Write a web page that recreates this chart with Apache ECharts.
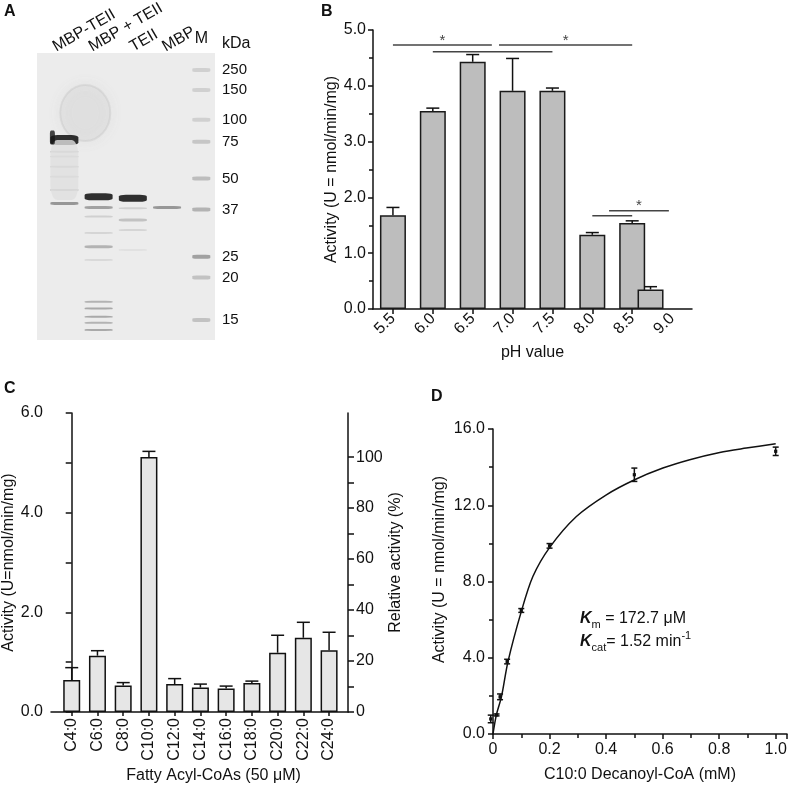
<!DOCTYPE html>
<html>
<head>
<meta charset="utf-8">
<script src="https://cdn.jsdelivr.net/npm/echarts@6/dist/echarts.min.js"></script>
<style>
html,body{margin:0;padding:0;background:#fff}
#main{width:790px;height:790px}
</style>
</head>
<body>
<div id="main"></div>
<script>
// ---- A: SDS-PAGE gel (band positions = migration in % of gel height) ----
var laneNames = ['MBP-TEII', 'MBP + TEII', 'TEII', 'MBP', 'M'];
var markerKDa = [250, 150, 100, 75, 50, 37, 25, 20, 15];
var markerRf = [5.9, 12.9, 23.3, 30.9, 43.7, 54.5, 71.0, 78.2, 93.0];
var markerInt = [0.15, 0.15, 0.15, 0.2, 0.25, 0.3, 0.4, 0.22, 0.22];
// [migration, intensity, thickness]
var lane1Bands = [[30.3, 1, 10], [34.4, 0.25, 2], [36.1, 0.2, 2], [39.6, 0.25, 2], [43.1, 0.2, 2], [47.7, 0.3, 2], [52.4, 0.45, 3]];
var lane2Bands = [[50.1, 1, 7], [53.8, 0.4, 3], [57.0, 0.15, 2], [62.7, 0.12, 2], [67.5, 0.3, 3], [72.1, 0.1, 2],
                  [86.7, 0.3, 2], [89.0, 0.35, 2], [91.9, 0.35, 2], [94.0, 0.3, 2], [96.5, 0.35, 2]];
var lane3Bands = [[50.6, 1, 7], [54.1, 0.15, 2], [58.2, 0.22, 3], [61.7, 0.12, 2], [68.6, 0.06, 2]];
var lane4Bands = [[53.8, 0.45, 3]];
// [lane, migration, intensity, height, width]
var gelSmears = [[0, 40.8, 0.05, 60, 28], [-0.35, 29.4, 0.9, 14, 5]];
var gelBlob = [[0.61, 20.9]];

// ---- B: pH profile ----
var phLabels = [5.5, 6.0, 6.5, 7.0, 7.5, 8.0, 8.5, 9.0];
var phBarPos = [5.5, 6.0, 6.5, 7.0, 7.5, 8.0, 8.5, 8.73]; // the 9.0 bar sits shifted left in the original
var phActivity = [1.68, 3.55, 4.43, 3.91, 3.91, 1.33, 1.54, 0.35];
var phErr = [0.14, 0.05, 0.13, 0.58, 0.05, 0.04, 0.04, 0.05];
// [from pH, to pH, height, star]
var sigLines = [[5.5, 6.74, 4.73, 1], [6.0, 7.5, 4.61, 0], [6.83, 8.5, 4.73, 1], [8.0, 8.5, 1.67, 0], [8.21, 8.96, 1.76, 1]];

// ---- C: substrate specificity ----
var acylNames = ['C4:0', 'C6:0', 'C8:0', 'C10:0', 'C12:0', 'C14:0', 'C16:0', 'C18:0', 'C20:0', 'C22:0', 'C24:0'];
var acylActivity = [0.64, 1.13, 0.53, 5.115, 0.56, 0.49, 0.47, 0.58, 1.19, 1.49, 1.24];
var acylErr = [0.25, 0.10, 0.06, 0.115, 0.11, 0.07, 0.05, 0.04, 0.35, 0.31, 0.36];
var leftTicks = [0, 1, 2, 3, 4, 5, 6];
var leftLabels = [0, 2, 4, 6];
var relTicks = [0, 10, 20, 30, 40, 50, 60, 70, 80, 90, 100];
var relLabels = [0, 20, 40, 60, 80, 100];

// ---- D: kinetics ----
var substrateMM = [-0.008, 0.0125, 0.025, 0.05, 0.1, 0.2, 0.5, 1.0];
var rateMean = [0.79, 1.0, 1.95, 3.8, 6.48, 9.87, 13.6, 14.83];
var rateErr = [0.2, 0.05, 0.15, 0.12, 0.1, 0.12, 0.35, 0.22];
var fitX = [0, 0.012, 0.03, 0.053, 0.1, 0.141, 0.2, 0.295, 0.401, 0.501, 0.601, 0.696, 0.802, 0.896, 1.0];
var fitY = [0, 1.0, 1.96, 3.8, 6.42, 8.26, 9.78, 11.41, 12.55, 13.34, 13.95, 14.39, 14.77, 15.0, 15.23];

var laneLabelAt = [-0.3, 0.75, 1.95, 2.9];

var chart = echarts.init(document.getElementById('main'));

var gelData = [];
[lane1Bands, lane2Bands, lane3Bands, lane4Bands].forEach(function (bands, i) {
	bands.forEach(function (b) { gelData.push([i, b[0], b[1], b[2], 28]); });
});
markerRf.forEach(function (rf, i) { gelData.push([4, rf, markerInt[i], 4, 18]); });
gelSmears.forEach(function (s) { gelData.push(s); });

function grayOf(v) {
	var g = Math.round(236 * (1 - v));
	return 'rgb(' + g + ',' + g + ',' + g + ')';
}

function errorBar(cap, withDot) {
	return function (params, api) {
		var x = api.value(0), y = api.value(1), e = api.value(2);
		var lo = api.coord([x, withDot ? y - e : y]);
		var hi = api.coord([x, y + e]);
		var st = {stroke: '#111', lineWidth: 1.5};
		var kids = [
			{type: 'line', shape: {x1: hi[0], y1: lo[1], x2: hi[0], y2: hi[1]}, style: st},
			{type: 'line', shape: {x1: hi[0] - cap, y1: hi[1], x2: hi[0] + cap, y2: hi[1]}, style: st}
		];
		if (withDot) {
			var c = api.coord([x, y]);
			kids.push({type: 'line', shape: {x1: lo[0] - cap, y1: lo[1], x2: lo[0] + cap, y2: lo[1]}, style: st});
			kids.push({type: 'rect', shape: {x: c[0] - 1.6, y: c[1] - 1.6, width: 3.2, height: 3.2}, style: {fill: '#111'}});
		}
		return {type: 'group', children: kids};
	};
}

var axisLineStyle = {color: '#111', width: 1.5};
var labelFont = {color: '#111', fontSize: 16};

var option = {
	backgroundColor: '#fff',
	animation: false,
	textStyle: {fontFamily: 'Liberation Sans, Arial, sans-serif'},
	title: [
		{text: 'A', left: 4, top: 4, padding: 0, textStyle: {fontSize: 16, fontWeight: 'bold', color: '#111'}},
		{text: 'B', left: 321, top: 4, padding: 0, textStyle: {fontSize: 16, fontWeight: 'bold', color: '#111'}},
		{text: 'C', left: 4, top: 381, padding: 0, textStyle: {fontSize: 16, fontWeight: 'bold', color: '#111'}},
		{text: 'D', left: 431, top: 389, padding: 0, textStyle: {fontSize: 16, fontWeight: 'bold', color: '#111'}}
	],
	grid: [
		{left: 37, top: 53, width: 178, height: 287, show: true, backgroundColor: '#ececec', borderWidth: 0, outerBoundsMode: 'none'},
		{left: 373, top: 30, right: 98, bottom: 481, outerBoundsMode: 'none'},
		{left: 51, top: 413, right: 442, bottom: 78, outerBoundsMode: 'none'},
		{left: 493, top: 429, right: 3, bottom: 56, outerBoundsMode: 'none'}
	],
	xAxis: [
		{gridIndex: 0, type: 'value', position: 'top', min: -0.8, max: 4.4,
			axisLine: {show: false}, axisTick: {show: false}, splitLine: {show: false},
			axisLabel: {customValues: laneLabelAt, rotate: 30, margin: 5, fontSize: 16, color: '#111', hideOverlap: false,
				formatter: function (v) { return laneNames[laneLabelAt.indexOf(v)]; }}},
		{gridIndex: 0, type: 'value', position: 'top', min: -0.8, max: 4.4,
			axisLine: {show: false}, axisTick: {show: false}, splitLine: {show: false},
			axisLabel: {customValues: [4], margin: 6, fontSize: 16, color: '#111',
				formatter: function () { return laneNames[4]; }}},
		{gridIndex: 1, type: 'value', min: 5.25, max: 9.25,
			axisLine: {lineStyle: axisLineStyle}, splitLine: {show: false},
			axisTick: {customValues: phLabels.slice(0, 7), length: 5, lineStyle: axisLineStyle},
			axisLabel: {customValues: phLabels, rotate: 45, margin: 7, fontSize: 16, color: '#111',
				formatter: function (v) { return v.toFixed(1); }},
			name: 'pH value', nameLocation: 'middle', nameGap: 36, nameTextStyle: labelFont},
		{gridIndex: 2, type: 'value', min: -0.805, max: 10.735,
			axisLine: {lineStyle: axisLineStyle}, splitLine: {show: false},
			axisTick: {customValues: acylNames.map(function (n, i) { return i; }), length: 4, lineStyle: axisLineStyle},
			axisLabel: {customValues: acylNames.map(function (n, i) { return i; }), rotate: 90, margin: 6, fontSize: 16, color: '#111',
				formatter: function (v) { return acylNames[Math.round(v)]; }},
			name: 'Fatty Acyl-CoAs (50 μM)', nameLocation: 'middle', nameGap: 56,
			nameTextStyle: {color: '#111', fontSize: 16, padding: [0, 0, 0, 28]}},
		{gridIndex: 3, type: 'value', min: 0, max: 1.04, interval: 0.2,
			axisLine: {lineStyle: axisLineStyle}, splitLine: {show: false},
			axisTick: {length: 5, lineStyle: axisLineStyle},
			minorTick: {show: true, splitNumber: 2, length: 4, lineStyle: {color: '#111', width: 1.5}},
			axisLabel: {margin: 8, fontSize: 16, color: '#111', showMaxLabel: false,
				formatter: function (v) { return v === 0 ? '0' : v.toFixed(1); }},
			name: 'C10:0 Decanoyl-CoA (mM)', nameLocation: 'middle', nameGap: 33, nameTextStyle: labelFont}
	],
	yAxis: [
		{gridIndex: 0, type: 'value', inverse: true, min: 0, max: 100, position: 'right',
			axisLine: {show: false}, axisTick: {show: false}, splitLine: {show: false},
			axisLabel: {customValues: markerRf, margin: 7, fontSize: 15, color: '#111',
				formatter: function (v) { return markerKDa[markerRf.indexOf(v)]; }}},
		{gridIndex: 1, type: 'value', min: 0, max: 5, interval: 1,
			axisLine: {show: true, lineStyle: axisLineStyle}, splitLine: {show: false},
			axisTick: {show: true, length: 5, lineStyle: axisLineStyle},
			minorTick: {show: true, splitNumber: 2, length: 4, lineStyle: {color: '#111', width: 1.5}},
			axisLabel: {margin: 7, fontSize: 16, color: '#111', formatter: function (v) { return v.toFixed(1); }},
			name: 'Activity (U = nmol/min/mg)', nameLocation: 'middle', nameGap: 33, nameTextStyle: labelFont},
		{gridIndex: 2, type: 'value', min: 0, max: 6,
			axisLine: {show: true, lineStyle: axisLineStyle}, splitLine: {show: false},
			axisTick: {show: true, customValues: leftTicks, length: 6, lineStyle: axisLineStyle},
			axisLabel: {customValues: leftLabels, margin: 8, fontSize: 16, color: '#111',
				formatter: function (v) { return v.toFixed(1); }},
			name: 'Activity (U=nmol/min/mg)', nameLocation: 'middle', nameGap: 33, nameTextStyle: labelFont},
		{gridIndex: 2, type: 'value', min: 0, max: 117.3, position: 'right',
			axisLine: {show: true, lineStyle: axisLineStyle}, splitLine: {show: false},
			axisTick: {show: true, customValues: relTicks, length: 6, lineStyle: axisLineStyle},
			axisLabel: {customValues: relLabels, margin: 8, fontSize: 16, color: '#111'},
			name: 'Relative activity (%)', nameLocation: 'middle', nameGap: 40, nameTextStyle: labelFont},
		{gridIndex: 3, type: 'value', min: 0, max: 16, interval: 4,
			axisLine: {show: true, lineStyle: axisLineStyle}, splitLine: {show: false},
			axisTick: {show: true, length: 5, lineStyle: axisLineStyle},
			minorTick: {show: true, splitNumber: 2, length: 4, lineStyle: {color: '#111', width: 1.5}},
			axisLabel: {margin: 8, fontSize: 16, color: '#111', formatter: function (v) { return v.toFixed(1); }},
			name: 'Activity (U = nmol/min/mg)', nameLocation: 'middle', nameGap: 45,
			nameTextStyle: {color: '#111', fontSize: 16, padding: [0, 0, 0, 24]}}
	],
	graphic: [
		{type: 'text', left: 222, top: 36,
			style: {text: 'kDa', fill: '#111', fontSize: 16, fontFamily: 'Liberation Sans'}},
		{type: 'text', left: 580, top: 611,
			style: {
				text: '{k|K}{sub|m}{t| = 172.7 μM}\n{k|K}{sub|cat}{t|= 1.52 min}{sup|-1}',
				fill: '#111',
				rich: {
					k: {fontSize: 16, fontStyle: 'italic', fontWeight: 'bold', lineHeight: 23, fill: '#111', fontFamily: 'Liberation Sans'},
					t: {fontSize: 16, lineHeight: 23, fill: '#111', fontFamily: 'Liberation Sans'},
					sub: {fontSize: 11, lineHeight: 11, verticalAlign: 'bottom', fill: '#111', fontFamily: 'Liberation Sans'},
					sup: {fontSize: 11, lineHeight: 11, verticalAlign: 'top', fill: '#111', fontFamily: 'Liberation Sans'}
				}
			}}
	],
	series: [
		{type: 'scatter', xAxisIndex: 0, yAxisIndex: 0, data: gelBlob, symbol: 'circle', symbolSize: [50, 56],
			itemStyle: {color: 'rgba(205,205,205,0.3)', borderColor: 'rgba(175,175,175,0.3)', borderWidth: 2,
				shadowBlur: 14, shadowColor: 'rgba(175,175,175,0.45)'}, z: 1, silent: true},
		{type: 'scatter', xAxisIndex: 0, yAxisIndex: 0, data: gelData, symbol: 'roundRect', z: 2, silent: true,
			symbolSize: function (v) { return [v[4], v[3]]; },
			itemStyle: {color: function (p) { return grayOf(p.data[2]); }}},
		{type: 'bar', xAxisIndex: 2, yAxisIndex: 1, barWidth: 26, silent: true,
			data: phBarPos.map(function (x, i) { return [x, phActivity[i]]; }),
			itemStyle: {color: '#bdbdbd', borderColor: '#1a1a1a', borderWidth: 1.5}},
		{type: 'custom', xAxisIndex: 2, yAxisIndex: 1, silent: true, z: 3,
			data: phBarPos.map(function (x, i) { return [x, phActivity[i], phErr[i]]; }),
			renderItem: errorBar(6.5, false)},
		{type: 'custom', xAxisIndex: 2, yAxisIndex: 1, silent: true, z: 3,
			data: sigLines,
			renderItem: function (params, api) {
				var a = api.coord([api.value(0), api.value(2)]);
				var b = api.coord([api.value(1), api.value(2)]);
				var kids = [{type: 'line', shape: {x1: a[0], y1: a[1], x2: b[0], y2: b[1]}, style: {stroke: '#444', lineWidth: 1.5}}];
				if (api.value(3)) {
					kids.push({type: 'text', x: (a[0] + b[0]) / 2, y: a[1] + 3,
						style: {text: '*', fill: '#444', fontSize: 15, align: 'center', verticalAlign: 'bottom', fontFamily: 'Liberation Sans'}});
				}
				return {type: 'group', children: kids};
			}},
		{type: 'bar', xAxisIndex: 3, yAxisIndex: 2, barWidth: 17, silent: true,
			data: acylActivity.map(function (v, i) { return [i, v]; }),
			itemStyle: {color: '#e6e6e6', borderColor: '#111', borderWidth: 1.5}},
		{type: 'custom', xAxisIndex: 3, yAxisIndex: 2, silent: true, z: 3,
			data: acylActivity.map(function (v, i) { return [i, v, acylErr[i]]; }),
			renderItem: errorBar(6.5, false)},
		{type: 'line', xAxisIndex: 4, yAxisIndex: 4, silent: true, smooth: 0.3, symbol: 'none',
			data: fitX.map(function (x, i) { return [x, fitY[i]]; }),
			lineStyle: {color: '#111', width: 1.5}},
		{type: 'custom', xAxisIndex: 4, yAxisIndex: 4, silent: true, clip: false, z: 3,
			data: substrateMM.map(function (x, i) { return [x, rateMean[i], rateErr[i]]; }),
			renderItem: errorBar(3, true)}
	]
};

chart.setOption(option);
</script>
</body>
</html>
